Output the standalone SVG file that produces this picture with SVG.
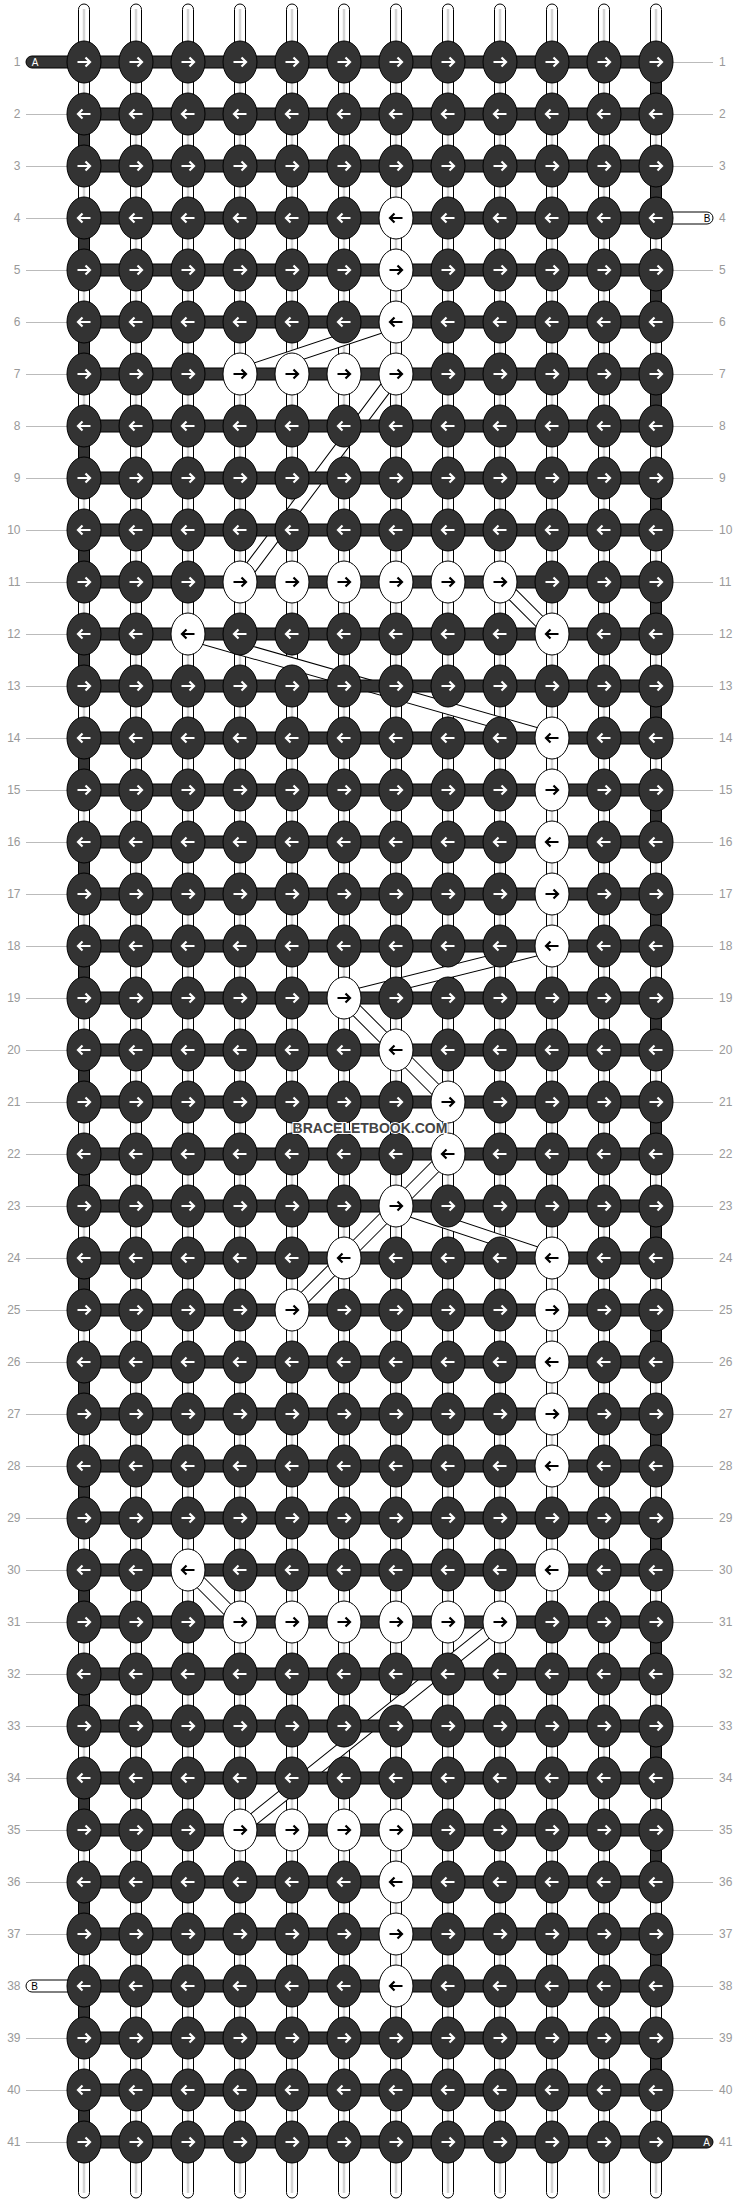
<svg xmlns="http://www.w3.org/2000/svg" xmlns:xlink="http://www.w3.org/1999/xlink" width="740" height="2204" viewBox="0 0 740 2204">
<style>
.vs{fill:#fff;stroke:#000;stroke-width:1}
.vg{stroke:#d4d4d4;stroke-width:2.5}
.dk{fill:#333;stroke:#000;stroke-width:1}
.wt{fill:#fff;stroke:#000;stroke-width:1}
.bo{stroke:#000;stroke-width:13;fill:none}
.bi{stroke:#fff;stroke-width:11;fill:none}
.lab{font-family:"Liberation Sans",Arial,sans-serif;font-size:12px;fill:#999}
.ll{stroke:#bbb;stroke-width:1}
.tab{font-family:"Liberation Sans",Arial,sans-serif;font-size:10px;text-anchor:middle}
</style>
<defs>
<g id="dR"><ellipse rx="17" ry="21" fill="#333" stroke="#000"/><path d="M-6.5,0H6M1.5,-4.5L6,0L1.5,4.5" fill="none" stroke="#fff" stroke-width="2.2"/></g>
<g id="dL"><ellipse rx="17" ry="21" fill="#333" stroke="#000"/><path d="M6.5,0H-6M-1.5,-4.5L-6,0L-1.5,4.5" fill="none" stroke="#fff" stroke-width="2.2"/></g>
<g id="wR"><ellipse rx="17" ry="21" fill="#fff" stroke="#000"/><path d="M-6.5,0H6M1.5,-4.5L6,0L1.5,4.5" fill="none" stroke="#000" stroke-width="2.2"/></g>
<g id="wL"><ellipse rx="17" ry="21" fill="#fff" stroke="#000"/><path d="M6.5,0H-6M-1.5,-4.5L-6,0L-1.5,4.5" fill="none" stroke="#000" stroke-width="2.2"/></g>
<rect id="bar" x="84" y="-6" width="572" height="12" class="dk"/>
</defs>
<g id="strands">
<rect class="vs" x="78.5" y="4" width="11" height="2194" rx="5.5"/><line class="vg" x1="84" y1="9" x2="84" y2="2193"/>
<rect class="vs" x="130.5" y="4" width="11" height="2194" rx="5.5"/><line class="vg" x1="136" y1="9" x2="136" y2="2193"/>
<rect class="vs" x="182.5" y="4" width="11" height="2194" rx="5.5"/><line class="vg" x1="188" y1="9" x2="188" y2="2193"/>
<rect class="vs" x="234.5" y="4" width="11" height="2194" rx="5.5"/><line class="vg" x1="240" y1="9" x2="240" y2="2193"/>
<rect class="vs" x="286.5" y="4" width="11" height="2194" rx="5.5"/><line class="vg" x1="292" y1="9" x2="292" y2="2193"/>
<rect class="vs" x="338.5" y="4" width="11" height="2194" rx="5.5"/><line class="vg" x1="344" y1="9" x2="344" y2="2193"/>
<rect class="vs" x="390.5" y="4" width="11" height="2194" rx="5.5"/><line class="vg" x1="396" y1="9" x2="396" y2="2193"/>
<rect class="vs" x="442.5" y="4" width="11" height="2194" rx="5.5"/><line class="vg" x1="448" y1="9" x2="448" y2="2193"/>
<rect class="vs" x="494.5" y="4" width="11" height="2194" rx="5.5"/><line class="vg" x1="500" y1="9" x2="500" y2="2193"/>
<rect class="vs" x="546.5" y="4" width="11" height="2194" rx="5.5"/><line class="vg" x1="552" y1="9" x2="552" y2="2193"/>
<rect class="vs" x="598.5" y="4" width="11" height="2194" rx="5.5"/><line class="vg" x1="604" y1="9" x2="604" y2="2193"/>
<rect class="vs" x="650.5" y="4" width="11" height="2194" rx="5.5"/><line class="vg" x1="656" y1="9" x2="656" y2="2193"/>
</g>
<g id="connectors">
<path class="dk" d="M78.5,129h11v22h-11zM78.5,233h11v22h-11zM78.5,337h11v22h-11zM78.5,441h11v22h-11zM78.5,545h11v22h-11zM78.5,649h11v22h-11zM78.5,753h11v22h-11zM78.5,857h11v22h-11zM78.5,961h11v22h-11zM78.5,1065h11v22h-11zM78.5,1169h11v22h-11zM78.5,1273h11v22h-11zM78.5,1377h11v22h-11zM78.5,1481h11v22h-11zM78.5,1585h11v22h-11zM78.5,1689h11v22h-11zM78.5,1793h11v22h-11zM78.5,1897h11v22h-11zM78.5,2001h11v22h-11zM78.5,2105h11v22h-11z"/>
<path class="dk" d="M650.5,77h11v22h-11zM650.5,181h11v22h-11zM650.5,285h11v22h-11zM650.5,389h11v22h-11zM650.5,493h11v22h-11zM650.5,597h11v22h-11zM650.5,701h11v22h-11zM650.5,805h11v22h-11zM650.5,909h11v22h-11zM650.5,1013h11v22h-11zM650.5,1117h11v22h-11zM650.5,1221h11v22h-11zM650.5,1325h11v22h-11zM650.5,1429h11v22h-11zM650.5,1533h11v22h-11zM650.5,1637h11v22h-11zM650.5,1741h11v22h-11zM650.5,1845h11v22h-11zM650.5,1949h11v22h-11zM650.5,2053h11v22h-11z"/>
<g id="bands">
<path class="bo" d="M396,322L240,374M396,374L240,582M500,582L552,634M188,634L552,738M552,946L344,998M344,998L396,1050M396,1050L448,1102M448,1154L396,1206M396,1206L552,1258M396,1206L344,1258M344,1258L292,1310M188,1570L240,1622M500,1622L240,1830"/>
<path class="bi" d="M396,322L240,374M396,374L240,582M500,582L552,634M188,634L552,738M552,946L344,998M344,998L396,1050M396,1050L448,1102M448,1154L396,1206M396,1206L552,1258M396,1206L344,1258M344,1258L292,1310M188,1570L240,1622M500,1622L240,1830"/>
</g>
<g id="bars">
<use href="#bar" y="62"/><use href="#bar" y="114"/><use href="#bar" y="166"/><use href="#bar" y="218"/><use href="#bar" y="270"/><use href="#bar" y="322"/><use href="#bar" y="374"/><use href="#bar" y="426"/><use href="#bar" y="478"/><use href="#bar" y="530"/><use href="#bar" y="582"/><use href="#bar" y="634"/><use href="#bar" y="686"/><use href="#bar" y="738"/><use href="#bar" y="790"/><use href="#bar" y="842"/><use href="#bar" y="894"/><use href="#bar" y="946"/><use href="#bar" y="998"/><use href="#bar" y="1050"/><use href="#bar" y="1102"/><use href="#bar" y="1154"/><use href="#bar" y="1206"/><use href="#bar" y="1258"/><use href="#bar" y="1310"/><use href="#bar" y="1362"/><use href="#bar" y="1414"/><use href="#bar" y="1466"/><use href="#bar" y="1518"/><use href="#bar" y="1570"/><use href="#bar" y="1622"/><use href="#bar" y="1674"/><use href="#bar" y="1726"/><use href="#bar" y="1778"/><use href="#bar" y="1830"/><use href="#bar" y="1882"/><use href="#bar" y="1934"/><use href="#bar" y="1986"/><use href="#bar" y="2038"/><use href="#bar" y="2090"/><use href="#bar" y="2142"/>
</g>
</g>
<g id="tabs">
<g id="tabA1"><rect class="dk" x="26" y="56" width="62" height="12" rx="6"/><text class="tab" x="35" y="65.5" fill="#fff">A</text></g>
<g id="tabB1"><rect class="wt" x="652" y="212" width="61" height="12" rx="6"/><text class="tab" x="707" y="221.5" fill="#000">B</text></g>
<g id="tabB2"><rect class="wt" x="26" y="1980" width="62" height="12" rx="6"/><text class="tab" x="34.5" y="1989.5" fill="#000">B</text></g>
<g id="tabA2"><rect class="dk" x="652" y="2136" width="61" height="12" rx="6"/><text class="tab" x="706.5" y="2145.5" fill="#fff">A</text></g>
</g>
<g id="labels">
<path class="ll" d="M26,114.5H67M26,166.5H67M26,218.5H67M26,270.5H67M26,322.5H67M26,374.5H67M26,426.5H67M26,478.5H67M26,530.5H67M26,582.5H67M26,634.5H67M26,686.5H67M26,738.5H67M26,790.5H67M26,842.5H67M26,894.5H67M26,946.5H67M26,998.5H67M26,1050.5H67M26,1102.5H67M26,1154.5H67M26,1206.5H67M26,1258.5H67M26,1310.5H67M26,1362.5H67M26,1414.5H67M26,1466.5H67M26,1518.5H67M26,1570.5H67M26,1622.5H67M26,1674.5H67M26,1726.5H67M26,1778.5H67M26,1830.5H67M26,1882.5H67M26,1934.5H67M26,2038.5H67M26,2090.5H67M26,2142.5H67"/>
<path class="ll" d="M673,62.5H713M673,114.5H713M673,166.5H713M673,270.5H713M673,322.5H713M673,374.5H713M673,426.5H713M673,478.5H713M673,530.5H713M673,582.5H713M673,634.5H713M673,686.5H713M673,738.5H713M673,790.5H713M673,842.5H713M673,894.5H713M673,946.5H713M673,998.5H713M673,1050.5H713M673,1102.5H713M673,1154.5H713M673,1206.5H713M673,1258.5H713M673,1310.5H713M673,1362.5H713M673,1414.5H713M673,1466.5H713M673,1518.5H713M673,1570.5H713M673,1622.5H713M673,1674.5H713M673,1726.5H713M673,1778.5H713M673,1830.5H713M673,1882.5H713M673,1934.5H713M673,1986.5H713M673,2038.5H713M673,2090.5H713"/>
<g class="lab" text-anchor="end">
<text x="20.5" y="66">1</text><text x="20.5" y="118">2</text><text x="20.5" y="170">3</text><text x="20.5" y="222">4</text><text x="20.5" y="274">5</text><text x="20.5" y="326">6</text><text x="20.5" y="378">7</text><text x="20.5" y="430">8</text><text x="20.5" y="482">9</text><text x="20.5" y="534">10</text><text x="20.5" y="586">11</text><text x="20.5" y="638">12</text><text x="20.5" y="690">13</text><text x="20.5" y="742">14</text><text x="20.5" y="794">15</text><text x="20.5" y="846">16</text><text x="20.5" y="898">17</text><text x="20.5" y="950">18</text><text x="20.5" y="1002">19</text><text x="20.5" y="1054">20</text><text x="20.5" y="1106">21</text><text x="20.5" y="1158">22</text><text x="20.5" y="1210">23</text><text x="20.5" y="1262">24</text><text x="20.5" y="1314">25</text><text x="20.5" y="1366">26</text><text x="20.5" y="1418">27</text><text x="20.5" y="1470">28</text><text x="20.5" y="1522">29</text><text x="20.5" y="1574">30</text><text x="20.5" y="1626">31</text><text x="20.5" y="1678">32</text><text x="20.5" y="1730">33</text><text x="20.5" y="1782">34</text><text x="20.5" y="1834">35</text><text x="20.5" y="1886">36</text><text x="20.5" y="1938">37</text><text x="20.5" y="1990">38</text><text x="20.5" y="2042">39</text><text x="20.5" y="2094">40</text><text x="20.5" y="2146">41</text>
</g>
<g class="lab" text-anchor="start">
<text x="719" y="66">1</text><text x="719" y="118">2</text><text x="719" y="170">3</text><text x="719" y="222">4</text><text x="719" y="274">5</text><text x="719" y="326">6</text><text x="719" y="378">7</text><text x="719" y="430">8</text><text x="719" y="482">9</text><text x="719" y="534">10</text><text x="719" y="586">11</text><text x="719" y="638">12</text><text x="719" y="690">13</text><text x="719" y="742">14</text><text x="719" y="794">15</text><text x="719" y="846">16</text><text x="719" y="898">17</text><text x="719" y="950">18</text><text x="719" y="1002">19</text><text x="719" y="1054">20</text><text x="719" y="1106">21</text><text x="719" y="1158">22</text><text x="719" y="1210">23</text><text x="719" y="1262">24</text><text x="719" y="1314">25</text><text x="719" y="1366">26</text><text x="719" y="1418">27</text><text x="719" y="1470">28</text><text x="719" y="1522">29</text><text x="719" y="1574">30</text><text x="719" y="1626">31</text><text x="719" y="1678">32</text><text x="719" y="1730">33</text><text x="719" y="1782">34</text><text x="719" y="1834">35</text><text x="719" y="1886">36</text><text x="719" y="1938">37</text><text x="719" y="1990">38</text><text x="719" y="2042">39</text><text x="719" y="2094">40</text><text x="719" y="2146">41</text>
</g>
</g>
<g id="knots">
<g id="k1-1"><use href="#dR" x="84" y="62"/></g><g id="k1-2"><use href="#dR" x="136" y="62"/></g><g id="k1-3"><use href="#dR" x="188" y="62"/></g><g id="k1-4"><use href="#dR" x="240" y="62"/></g><g id="k1-5"><use href="#dR" x="292" y="62"/></g><g id="k1-6"><use href="#dR" x="344" y="62"/></g><g id="k1-7"><use href="#dR" x="396" y="62"/></g><g id="k1-8"><use href="#dR" x="448" y="62"/></g><g id="k1-9"><use href="#dR" x="500" y="62"/></g><g id="k1-10"><use href="#dR" x="552" y="62"/></g><g id="k1-11"><use href="#dR" x="604" y="62"/></g><g id="k1-12"><use href="#dR" x="656" y="62"/></g>
<g id="k2-1"><use href="#dL" x="84" y="114"/></g><g id="k2-2"><use href="#dL" x="136" y="114"/></g><g id="k2-3"><use href="#dL" x="188" y="114"/></g><g id="k2-4"><use href="#dL" x="240" y="114"/></g><g id="k2-5"><use href="#dL" x="292" y="114"/></g><g id="k2-6"><use href="#dL" x="344" y="114"/></g><g id="k2-7"><use href="#dL" x="396" y="114"/></g><g id="k2-8"><use href="#dL" x="448" y="114"/></g><g id="k2-9"><use href="#dL" x="500" y="114"/></g><g id="k2-10"><use href="#dL" x="552" y="114"/></g><g id="k2-11"><use href="#dL" x="604" y="114"/></g><g id="k2-12"><use href="#dL" x="656" y="114"/></g>
<g id="k3-1"><use href="#dR" x="84" y="166"/></g><g id="k3-2"><use href="#dR" x="136" y="166"/></g><g id="k3-3"><use href="#dR" x="188" y="166"/></g><g id="k3-4"><use href="#dR" x="240" y="166"/></g><g id="k3-5"><use href="#dR" x="292" y="166"/></g><g id="k3-6"><use href="#dR" x="344" y="166"/></g><g id="k3-7"><use href="#dR" x="396" y="166"/></g><g id="k3-8"><use href="#dR" x="448" y="166"/></g><g id="k3-9"><use href="#dR" x="500" y="166"/></g><g id="k3-10"><use href="#dR" x="552" y="166"/></g><g id="k3-11"><use href="#dR" x="604" y="166"/></g><g id="k3-12"><use href="#dR" x="656" y="166"/></g>
<g id="k4-1"><use href="#dL" x="84" y="218"/></g><g id="k4-2"><use href="#dL" x="136" y="218"/></g><g id="k4-3"><use href="#dL" x="188" y="218"/></g><g id="k4-4"><use href="#dL" x="240" y="218"/></g><g id="k4-5"><use href="#dL" x="292" y="218"/></g><g id="k4-6"><use href="#dL" x="344" y="218"/></g><g id="k4-7"><use href="#wL" x="396" y="218"/></g><g id="k4-8"><use href="#dL" x="448" y="218"/></g><g id="k4-9"><use href="#dL" x="500" y="218"/></g><g id="k4-10"><use href="#dL" x="552" y="218"/></g><g id="k4-11"><use href="#dL" x="604" y="218"/></g><g id="k4-12"><use href="#dL" x="656" y="218"/></g>
<g id="k5-1"><use href="#dR" x="84" y="270"/></g><g id="k5-2"><use href="#dR" x="136" y="270"/></g><g id="k5-3"><use href="#dR" x="188" y="270"/></g><g id="k5-4"><use href="#dR" x="240" y="270"/></g><g id="k5-5"><use href="#dR" x="292" y="270"/></g><g id="k5-6"><use href="#dR" x="344" y="270"/></g><g id="k5-7"><use href="#wR" x="396" y="270"/></g><g id="k5-8"><use href="#dR" x="448" y="270"/></g><g id="k5-9"><use href="#dR" x="500" y="270"/></g><g id="k5-10"><use href="#dR" x="552" y="270"/></g><g id="k5-11"><use href="#dR" x="604" y="270"/></g><g id="k5-12"><use href="#dR" x="656" y="270"/></g>
<g id="k6-1"><use href="#dL" x="84" y="322"/></g><g id="k6-2"><use href="#dL" x="136" y="322"/></g><g id="k6-3"><use href="#dL" x="188" y="322"/></g><g id="k6-4"><use href="#dL" x="240" y="322"/></g><g id="k6-5"><use href="#dL" x="292" y="322"/></g><g id="k6-6"><use href="#dL" x="344" y="322"/></g><g id="k6-7"><use href="#wL" x="396" y="322"/></g><g id="k6-8"><use href="#dL" x="448" y="322"/></g><g id="k6-9"><use href="#dL" x="500" y="322"/></g><g id="k6-10"><use href="#dL" x="552" y="322"/></g><g id="k6-11"><use href="#dL" x="604" y="322"/></g><g id="k6-12"><use href="#dL" x="656" y="322"/></g>
<g id="k7-1"><use href="#dR" x="84" y="374"/></g><g id="k7-2"><use href="#dR" x="136" y="374"/></g><g id="k7-3"><use href="#dR" x="188" y="374"/></g><g id="k7-4"><use href="#wR" x="240" y="374"/></g><g id="k7-5"><use href="#wR" x="292" y="374"/></g><g id="k7-6"><use href="#wR" x="344" y="374"/></g><g id="k7-7"><use href="#wR" x="396" y="374"/></g><g id="k7-8"><use href="#dR" x="448" y="374"/></g><g id="k7-9"><use href="#dR" x="500" y="374"/></g><g id="k7-10"><use href="#dR" x="552" y="374"/></g><g id="k7-11"><use href="#dR" x="604" y="374"/></g><g id="k7-12"><use href="#dR" x="656" y="374"/></g>
<g id="k8-1"><use href="#dL" x="84" y="426"/></g><g id="k8-2"><use href="#dL" x="136" y="426"/></g><g id="k8-3"><use href="#dL" x="188" y="426"/></g><g id="k8-4"><use href="#dL" x="240" y="426"/></g><g id="k8-5"><use href="#dL" x="292" y="426"/></g><g id="k8-6"><use href="#dL" x="344" y="426"/></g><g id="k8-7"><use href="#dL" x="396" y="426"/></g><g id="k8-8"><use href="#dL" x="448" y="426"/></g><g id="k8-9"><use href="#dL" x="500" y="426"/></g><g id="k8-10"><use href="#dL" x="552" y="426"/></g><g id="k8-11"><use href="#dL" x="604" y="426"/></g><g id="k8-12"><use href="#dL" x="656" y="426"/></g>
<g id="k9-1"><use href="#dR" x="84" y="478"/></g><g id="k9-2"><use href="#dR" x="136" y="478"/></g><g id="k9-3"><use href="#dR" x="188" y="478"/></g><g id="k9-4"><use href="#dR" x="240" y="478"/></g><g id="k9-5"><use href="#dR" x="292" y="478"/></g><g id="k9-6"><use href="#dR" x="344" y="478"/></g><g id="k9-7"><use href="#dR" x="396" y="478"/></g><g id="k9-8"><use href="#dR" x="448" y="478"/></g><g id="k9-9"><use href="#dR" x="500" y="478"/></g><g id="k9-10"><use href="#dR" x="552" y="478"/></g><g id="k9-11"><use href="#dR" x="604" y="478"/></g><g id="k9-12"><use href="#dR" x="656" y="478"/></g>
<g id="k10-1"><use href="#dL" x="84" y="530"/></g><g id="k10-2"><use href="#dL" x="136" y="530"/></g><g id="k10-3"><use href="#dL" x="188" y="530"/></g><g id="k10-4"><use href="#dL" x="240" y="530"/></g><g id="k10-5"><use href="#dL" x="292" y="530"/></g><g id="k10-6"><use href="#dL" x="344" y="530"/></g><g id="k10-7"><use href="#dL" x="396" y="530"/></g><g id="k10-8"><use href="#dL" x="448" y="530"/></g><g id="k10-9"><use href="#dL" x="500" y="530"/></g><g id="k10-10"><use href="#dL" x="552" y="530"/></g><g id="k10-11"><use href="#dL" x="604" y="530"/></g><g id="k10-12"><use href="#dL" x="656" y="530"/></g>
<g id="k11-1"><use href="#dR" x="84" y="582"/></g><g id="k11-2"><use href="#dR" x="136" y="582"/></g><g id="k11-3"><use href="#dR" x="188" y="582"/></g><g id="k11-4"><use href="#wR" x="240" y="582"/></g><g id="k11-5"><use href="#wR" x="292" y="582"/></g><g id="k11-6"><use href="#wR" x="344" y="582"/></g><g id="k11-7"><use href="#wR" x="396" y="582"/></g><g id="k11-8"><use href="#wR" x="448" y="582"/></g><g id="k11-9"><use href="#wR" x="500" y="582"/></g><g id="k11-10"><use href="#dR" x="552" y="582"/></g><g id="k11-11"><use href="#dR" x="604" y="582"/></g><g id="k11-12"><use href="#dR" x="656" y="582"/></g>
<g id="k12-1"><use href="#dL" x="84" y="634"/></g><g id="k12-2"><use href="#dL" x="136" y="634"/></g><g id="k12-3"><use href="#wL" x="188" y="634"/></g><g id="k12-4"><use href="#dL" x="240" y="634"/></g><g id="k12-5"><use href="#dL" x="292" y="634"/></g><g id="k12-6"><use href="#dL" x="344" y="634"/></g><g id="k12-7"><use href="#dL" x="396" y="634"/></g><g id="k12-8"><use href="#dL" x="448" y="634"/></g><g id="k12-9"><use href="#dL" x="500" y="634"/></g><g id="k12-10"><use href="#wL" x="552" y="634"/></g><g id="k12-11"><use href="#dL" x="604" y="634"/></g><g id="k12-12"><use href="#dL" x="656" y="634"/></g>
<g id="k13-1"><use href="#dR" x="84" y="686"/></g><g id="k13-2"><use href="#dR" x="136" y="686"/></g><g id="k13-3"><use href="#dR" x="188" y="686"/></g><g id="k13-4"><use href="#dR" x="240" y="686"/></g><g id="k13-5"><use href="#dR" x="292" y="686"/></g><g id="k13-6"><use href="#dR" x="344" y="686"/></g><g id="k13-7"><use href="#dR" x="396" y="686"/></g><g id="k13-8"><use href="#dR" x="448" y="686"/></g><g id="k13-9"><use href="#dR" x="500" y="686"/></g><g id="k13-10"><use href="#dR" x="552" y="686"/></g><g id="k13-11"><use href="#dR" x="604" y="686"/></g><g id="k13-12"><use href="#dR" x="656" y="686"/></g>
<g id="k14-1"><use href="#dL" x="84" y="738"/></g><g id="k14-2"><use href="#dL" x="136" y="738"/></g><g id="k14-3"><use href="#dL" x="188" y="738"/></g><g id="k14-4"><use href="#dL" x="240" y="738"/></g><g id="k14-5"><use href="#dL" x="292" y="738"/></g><g id="k14-6"><use href="#dL" x="344" y="738"/></g><g id="k14-7"><use href="#dL" x="396" y="738"/></g><g id="k14-8"><use href="#dL" x="448" y="738"/></g><g id="k14-9"><use href="#dL" x="500" y="738"/></g><g id="k14-10"><use href="#wL" x="552" y="738"/></g><g id="k14-11"><use href="#dL" x="604" y="738"/></g><g id="k14-12"><use href="#dL" x="656" y="738"/></g>
<g id="k15-1"><use href="#dR" x="84" y="790"/></g><g id="k15-2"><use href="#dR" x="136" y="790"/></g><g id="k15-3"><use href="#dR" x="188" y="790"/></g><g id="k15-4"><use href="#dR" x="240" y="790"/></g><g id="k15-5"><use href="#dR" x="292" y="790"/></g><g id="k15-6"><use href="#dR" x="344" y="790"/></g><g id="k15-7"><use href="#dR" x="396" y="790"/></g><g id="k15-8"><use href="#dR" x="448" y="790"/></g><g id="k15-9"><use href="#dR" x="500" y="790"/></g><g id="k15-10"><use href="#wR" x="552" y="790"/></g><g id="k15-11"><use href="#dR" x="604" y="790"/></g><g id="k15-12"><use href="#dR" x="656" y="790"/></g>
<g id="k16-1"><use href="#dL" x="84" y="842"/></g><g id="k16-2"><use href="#dL" x="136" y="842"/></g><g id="k16-3"><use href="#dL" x="188" y="842"/></g><g id="k16-4"><use href="#dL" x="240" y="842"/></g><g id="k16-5"><use href="#dL" x="292" y="842"/></g><g id="k16-6"><use href="#dL" x="344" y="842"/></g><g id="k16-7"><use href="#dL" x="396" y="842"/></g><g id="k16-8"><use href="#dL" x="448" y="842"/></g><g id="k16-9"><use href="#dL" x="500" y="842"/></g><g id="k16-10"><use href="#wL" x="552" y="842"/></g><g id="k16-11"><use href="#dL" x="604" y="842"/></g><g id="k16-12"><use href="#dL" x="656" y="842"/></g>
<g id="k17-1"><use href="#dR" x="84" y="894"/></g><g id="k17-2"><use href="#dR" x="136" y="894"/></g><g id="k17-3"><use href="#dR" x="188" y="894"/></g><g id="k17-4"><use href="#dR" x="240" y="894"/></g><g id="k17-5"><use href="#dR" x="292" y="894"/></g><g id="k17-6"><use href="#dR" x="344" y="894"/></g><g id="k17-7"><use href="#dR" x="396" y="894"/></g><g id="k17-8"><use href="#dR" x="448" y="894"/></g><g id="k17-9"><use href="#dR" x="500" y="894"/></g><g id="k17-10"><use href="#wR" x="552" y="894"/></g><g id="k17-11"><use href="#dR" x="604" y="894"/></g><g id="k17-12"><use href="#dR" x="656" y="894"/></g>
<g id="k18-1"><use href="#dL" x="84" y="946"/></g><g id="k18-2"><use href="#dL" x="136" y="946"/></g><g id="k18-3"><use href="#dL" x="188" y="946"/></g><g id="k18-4"><use href="#dL" x="240" y="946"/></g><g id="k18-5"><use href="#dL" x="292" y="946"/></g><g id="k18-6"><use href="#dL" x="344" y="946"/></g><g id="k18-7"><use href="#dL" x="396" y="946"/></g><g id="k18-8"><use href="#dL" x="448" y="946"/></g><g id="k18-9"><use href="#dL" x="500" y="946"/></g><g id="k18-10"><use href="#wL" x="552" y="946"/></g><g id="k18-11"><use href="#dL" x="604" y="946"/></g><g id="k18-12"><use href="#dL" x="656" y="946"/></g>
<g id="k19-1"><use href="#dR" x="84" y="998"/></g><g id="k19-2"><use href="#dR" x="136" y="998"/></g><g id="k19-3"><use href="#dR" x="188" y="998"/></g><g id="k19-4"><use href="#dR" x="240" y="998"/></g><g id="k19-5"><use href="#dR" x="292" y="998"/></g><g id="k19-6"><use href="#wR" x="344" y="998"/></g><g id="k19-7"><use href="#dR" x="396" y="998"/></g><g id="k19-8"><use href="#dR" x="448" y="998"/></g><g id="k19-9"><use href="#dR" x="500" y="998"/></g><g id="k19-10"><use href="#dR" x="552" y="998"/></g><g id="k19-11"><use href="#dR" x="604" y="998"/></g><g id="k19-12"><use href="#dR" x="656" y="998"/></g>
<g id="k20-1"><use href="#dL" x="84" y="1050"/></g><g id="k20-2"><use href="#dL" x="136" y="1050"/></g><g id="k20-3"><use href="#dL" x="188" y="1050"/></g><g id="k20-4"><use href="#dL" x="240" y="1050"/></g><g id="k20-5"><use href="#dL" x="292" y="1050"/></g><g id="k20-6"><use href="#dL" x="344" y="1050"/></g><g id="k20-7"><use href="#wL" x="396" y="1050"/></g><g id="k20-8"><use href="#dL" x="448" y="1050"/></g><g id="k20-9"><use href="#dL" x="500" y="1050"/></g><g id="k20-10"><use href="#dL" x="552" y="1050"/></g><g id="k20-11"><use href="#dL" x="604" y="1050"/></g><g id="k20-12"><use href="#dL" x="656" y="1050"/></g>
<g id="k21-1"><use href="#dR" x="84" y="1102"/></g><g id="k21-2"><use href="#dR" x="136" y="1102"/></g><g id="k21-3"><use href="#dR" x="188" y="1102"/></g><g id="k21-4"><use href="#dR" x="240" y="1102"/></g><g id="k21-5"><use href="#dR" x="292" y="1102"/></g><g id="k21-6"><use href="#dR" x="344" y="1102"/></g><g id="k21-7"><use href="#dR" x="396" y="1102"/></g><g id="k21-8"><use href="#wR" x="448" y="1102"/></g><g id="k21-9"><use href="#dR" x="500" y="1102"/></g><g id="k21-10"><use href="#dR" x="552" y="1102"/></g><g id="k21-11"><use href="#dR" x="604" y="1102"/></g><g id="k21-12"><use href="#dR" x="656" y="1102"/></g>
<g id="k22-1"><use href="#dL" x="84" y="1154"/></g><g id="k22-2"><use href="#dL" x="136" y="1154"/></g><g id="k22-3"><use href="#dL" x="188" y="1154"/></g><g id="k22-4"><use href="#dL" x="240" y="1154"/></g><g id="k22-5"><use href="#dL" x="292" y="1154"/></g><g id="k22-6"><use href="#dL" x="344" y="1154"/></g><g id="k22-7"><use href="#dL" x="396" y="1154"/></g><g id="k22-8"><use href="#wL" x="448" y="1154"/></g><g id="k22-9"><use href="#dL" x="500" y="1154"/></g><g id="k22-10"><use href="#dL" x="552" y="1154"/></g><g id="k22-11"><use href="#dL" x="604" y="1154"/></g><g id="k22-12"><use href="#dL" x="656" y="1154"/></g>
<g id="k23-1"><use href="#dR" x="84" y="1206"/></g><g id="k23-2"><use href="#dR" x="136" y="1206"/></g><g id="k23-3"><use href="#dR" x="188" y="1206"/></g><g id="k23-4"><use href="#dR" x="240" y="1206"/></g><g id="k23-5"><use href="#dR" x="292" y="1206"/></g><g id="k23-6"><use href="#dR" x="344" y="1206"/></g><g id="k23-7"><use href="#wR" x="396" y="1206"/></g><g id="k23-8"><use href="#dR" x="448" y="1206"/></g><g id="k23-9"><use href="#dR" x="500" y="1206"/></g><g id="k23-10"><use href="#dR" x="552" y="1206"/></g><g id="k23-11"><use href="#dR" x="604" y="1206"/></g><g id="k23-12"><use href="#dR" x="656" y="1206"/></g>
<g id="k24-1"><use href="#dL" x="84" y="1258"/></g><g id="k24-2"><use href="#dL" x="136" y="1258"/></g><g id="k24-3"><use href="#dL" x="188" y="1258"/></g><g id="k24-4"><use href="#dL" x="240" y="1258"/></g><g id="k24-5"><use href="#dL" x="292" y="1258"/></g><g id="k24-6"><use href="#wL" x="344" y="1258"/></g><g id="k24-7"><use href="#dL" x="396" y="1258"/></g><g id="k24-8"><use href="#dL" x="448" y="1258"/></g><g id="k24-9"><use href="#dL" x="500" y="1258"/></g><g id="k24-10"><use href="#wL" x="552" y="1258"/></g><g id="k24-11"><use href="#dL" x="604" y="1258"/></g><g id="k24-12"><use href="#dL" x="656" y="1258"/></g>
<g id="k25-1"><use href="#dR" x="84" y="1310"/></g><g id="k25-2"><use href="#dR" x="136" y="1310"/></g><g id="k25-3"><use href="#dR" x="188" y="1310"/></g><g id="k25-4"><use href="#dR" x="240" y="1310"/></g><g id="k25-5"><use href="#wR" x="292" y="1310"/></g><g id="k25-6"><use href="#dR" x="344" y="1310"/></g><g id="k25-7"><use href="#dR" x="396" y="1310"/></g><g id="k25-8"><use href="#dR" x="448" y="1310"/></g><g id="k25-9"><use href="#dR" x="500" y="1310"/></g><g id="k25-10"><use href="#wR" x="552" y="1310"/></g><g id="k25-11"><use href="#dR" x="604" y="1310"/></g><g id="k25-12"><use href="#dR" x="656" y="1310"/></g>
<g id="k26-1"><use href="#dL" x="84" y="1362"/></g><g id="k26-2"><use href="#dL" x="136" y="1362"/></g><g id="k26-3"><use href="#dL" x="188" y="1362"/></g><g id="k26-4"><use href="#dL" x="240" y="1362"/></g><g id="k26-5"><use href="#dL" x="292" y="1362"/></g><g id="k26-6"><use href="#dL" x="344" y="1362"/></g><g id="k26-7"><use href="#dL" x="396" y="1362"/></g><g id="k26-8"><use href="#dL" x="448" y="1362"/></g><g id="k26-9"><use href="#dL" x="500" y="1362"/></g><g id="k26-10"><use href="#wL" x="552" y="1362"/></g><g id="k26-11"><use href="#dL" x="604" y="1362"/></g><g id="k26-12"><use href="#dL" x="656" y="1362"/></g>
<g id="k27-1"><use href="#dR" x="84" y="1414"/></g><g id="k27-2"><use href="#dR" x="136" y="1414"/></g><g id="k27-3"><use href="#dR" x="188" y="1414"/></g><g id="k27-4"><use href="#dR" x="240" y="1414"/></g><g id="k27-5"><use href="#dR" x="292" y="1414"/></g><g id="k27-6"><use href="#dR" x="344" y="1414"/></g><g id="k27-7"><use href="#dR" x="396" y="1414"/></g><g id="k27-8"><use href="#dR" x="448" y="1414"/></g><g id="k27-9"><use href="#dR" x="500" y="1414"/></g><g id="k27-10"><use href="#wR" x="552" y="1414"/></g><g id="k27-11"><use href="#dR" x="604" y="1414"/></g><g id="k27-12"><use href="#dR" x="656" y="1414"/></g>
<g id="k28-1"><use href="#dL" x="84" y="1466"/></g><g id="k28-2"><use href="#dL" x="136" y="1466"/></g><g id="k28-3"><use href="#dL" x="188" y="1466"/></g><g id="k28-4"><use href="#dL" x="240" y="1466"/></g><g id="k28-5"><use href="#dL" x="292" y="1466"/></g><g id="k28-6"><use href="#dL" x="344" y="1466"/></g><g id="k28-7"><use href="#dL" x="396" y="1466"/></g><g id="k28-8"><use href="#dL" x="448" y="1466"/></g><g id="k28-9"><use href="#dL" x="500" y="1466"/></g><g id="k28-10"><use href="#wL" x="552" y="1466"/></g><g id="k28-11"><use href="#dL" x="604" y="1466"/></g><g id="k28-12"><use href="#dL" x="656" y="1466"/></g>
<g id="k29-1"><use href="#dR" x="84" y="1518"/></g><g id="k29-2"><use href="#dR" x="136" y="1518"/></g><g id="k29-3"><use href="#dR" x="188" y="1518"/></g><g id="k29-4"><use href="#dR" x="240" y="1518"/></g><g id="k29-5"><use href="#dR" x="292" y="1518"/></g><g id="k29-6"><use href="#dR" x="344" y="1518"/></g><g id="k29-7"><use href="#dR" x="396" y="1518"/></g><g id="k29-8"><use href="#dR" x="448" y="1518"/></g><g id="k29-9"><use href="#dR" x="500" y="1518"/></g><g id="k29-10"><use href="#dR" x="552" y="1518"/></g><g id="k29-11"><use href="#dR" x="604" y="1518"/></g><g id="k29-12"><use href="#dR" x="656" y="1518"/></g>
<g id="k30-1"><use href="#dL" x="84" y="1570"/></g><g id="k30-2"><use href="#dL" x="136" y="1570"/></g><g id="k30-3"><use href="#wL" x="188" y="1570"/></g><g id="k30-4"><use href="#dL" x="240" y="1570"/></g><g id="k30-5"><use href="#dL" x="292" y="1570"/></g><g id="k30-6"><use href="#dL" x="344" y="1570"/></g><g id="k30-7"><use href="#dL" x="396" y="1570"/></g><g id="k30-8"><use href="#dL" x="448" y="1570"/></g><g id="k30-9"><use href="#dL" x="500" y="1570"/></g><g id="k30-10"><use href="#wL" x="552" y="1570"/></g><g id="k30-11"><use href="#dL" x="604" y="1570"/></g><g id="k30-12"><use href="#dL" x="656" y="1570"/></g>
<g id="k31-1"><use href="#dR" x="84" y="1622"/></g><g id="k31-2"><use href="#dR" x="136" y="1622"/></g><g id="k31-3"><use href="#dR" x="188" y="1622"/></g><g id="k31-4"><use href="#wR" x="240" y="1622"/></g><g id="k31-5"><use href="#wR" x="292" y="1622"/></g><g id="k31-6"><use href="#wR" x="344" y="1622"/></g><g id="k31-7"><use href="#wR" x="396" y="1622"/></g><g id="k31-8"><use href="#wR" x="448" y="1622"/></g><g id="k31-9"><use href="#wR" x="500" y="1622"/></g><g id="k31-10"><use href="#dR" x="552" y="1622"/></g><g id="k31-11"><use href="#dR" x="604" y="1622"/></g><g id="k31-12"><use href="#dR" x="656" y="1622"/></g>
<g id="k32-1"><use href="#dL" x="84" y="1674"/></g><g id="k32-2"><use href="#dL" x="136" y="1674"/></g><g id="k32-3"><use href="#dL" x="188" y="1674"/></g><g id="k32-4"><use href="#dL" x="240" y="1674"/></g><g id="k32-5"><use href="#dL" x="292" y="1674"/></g><g id="k32-6"><use href="#dL" x="344" y="1674"/></g><g id="k32-7"><use href="#dL" x="396" y="1674"/></g><g id="k32-8"><use href="#dL" x="448" y="1674"/></g><g id="k32-9"><use href="#dL" x="500" y="1674"/></g><g id="k32-10"><use href="#dL" x="552" y="1674"/></g><g id="k32-11"><use href="#dL" x="604" y="1674"/></g><g id="k32-12"><use href="#dL" x="656" y="1674"/></g>
<g id="k33-1"><use href="#dR" x="84" y="1726"/></g><g id="k33-2"><use href="#dR" x="136" y="1726"/></g><g id="k33-3"><use href="#dR" x="188" y="1726"/></g><g id="k33-4"><use href="#dR" x="240" y="1726"/></g><g id="k33-5"><use href="#dR" x="292" y="1726"/></g><g id="k33-6"><use href="#dR" x="344" y="1726"/></g><g id="k33-7"><use href="#dR" x="396" y="1726"/></g><g id="k33-8"><use href="#dR" x="448" y="1726"/></g><g id="k33-9"><use href="#dR" x="500" y="1726"/></g><g id="k33-10"><use href="#dR" x="552" y="1726"/></g><g id="k33-11"><use href="#dR" x="604" y="1726"/></g><g id="k33-12"><use href="#dR" x="656" y="1726"/></g>
<g id="k34-1"><use href="#dL" x="84" y="1778"/></g><g id="k34-2"><use href="#dL" x="136" y="1778"/></g><g id="k34-3"><use href="#dL" x="188" y="1778"/></g><g id="k34-4"><use href="#dL" x="240" y="1778"/></g><g id="k34-5"><use href="#dL" x="292" y="1778"/></g><g id="k34-6"><use href="#dL" x="344" y="1778"/></g><g id="k34-7"><use href="#dL" x="396" y="1778"/></g><g id="k34-8"><use href="#dL" x="448" y="1778"/></g><g id="k34-9"><use href="#dL" x="500" y="1778"/></g><g id="k34-10"><use href="#dL" x="552" y="1778"/></g><g id="k34-11"><use href="#dL" x="604" y="1778"/></g><g id="k34-12"><use href="#dL" x="656" y="1778"/></g>
<g id="k35-1"><use href="#dR" x="84" y="1830"/></g><g id="k35-2"><use href="#dR" x="136" y="1830"/></g><g id="k35-3"><use href="#dR" x="188" y="1830"/></g><g id="k35-4"><use href="#wR" x="240" y="1830"/></g><g id="k35-5"><use href="#wR" x="292" y="1830"/></g><g id="k35-6"><use href="#wR" x="344" y="1830"/></g><g id="k35-7"><use href="#wR" x="396" y="1830"/></g><g id="k35-8"><use href="#dR" x="448" y="1830"/></g><g id="k35-9"><use href="#dR" x="500" y="1830"/></g><g id="k35-10"><use href="#dR" x="552" y="1830"/></g><g id="k35-11"><use href="#dR" x="604" y="1830"/></g><g id="k35-12"><use href="#dR" x="656" y="1830"/></g>
<g id="k36-1"><use href="#dL" x="84" y="1882"/></g><g id="k36-2"><use href="#dL" x="136" y="1882"/></g><g id="k36-3"><use href="#dL" x="188" y="1882"/></g><g id="k36-4"><use href="#dL" x="240" y="1882"/></g><g id="k36-5"><use href="#dL" x="292" y="1882"/></g><g id="k36-6"><use href="#dL" x="344" y="1882"/></g><g id="k36-7"><use href="#wL" x="396" y="1882"/></g><g id="k36-8"><use href="#dL" x="448" y="1882"/></g><g id="k36-9"><use href="#dL" x="500" y="1882"/></g><g id="k36-10"><use href="#dL" x="552" y="1882"/></g><g id="k36-11"><use href="#dL" x="604" y="1882"/></g><g id="k36-12"><use href="#dL" x="656" y="1882"/></g>
<g id="k37-1"><use href="#dR" x="84" y="1934"/></g><g id="k37-2"><use href="#dR" x="136" y="1934"/></g><g id="k37-3"><use href="#dR" x="188" y="1934"/></g><g id="k37-4"><use href="#dR" x="240" y="1934"/></g><g id="k37-5"><use href="#dR" x="292" y="1934"/></g><g id="k37-6"><use href="#dR" x="344" y="1934"/></g><g id="k37-7"><use href="#wR" x="396" y="1934"/></g><g id="k37-8"><use href="#dR" x="448" y="1934"/></g><g id="k37-9"><use href="#dR" x="500" y="1934"/></g><g id="k37-10"><use href="#dR" x="552" y="1934"/></g><g id="k37-11"><use href="#dR" x="604" y="1934"/></g><g id="k37-12"><use href="#dR" x="656" y="1934"/></g>
<g id="k38-1"><use href="#dL" x="84" y="1986"/></g><g id="k38-2"><use href="#dL" x="136" y="1986"/></g><g id="k38-3"><use href="#dL" x="188" y="1986"/></g><g id="k38-4"><use href="#dL" x="240" y="1986"/></g><g id="k38-5"><use href="#dL" x="292" y="1986"/></g><g id="k38-6"><use href="#dL" x="344" y="1986"/></g><g id="k38-7"><use href="#wL" x="396" y="1986"/></g><g id="k38-8"><use href="#dL" x="448" y="1986"/></g><g id="k38-9"><use href="#dL" x="500" y="1986"/></g><g id="k38-10"><use href="#dL" x="552" y="1986"/></g><g id="k38-11"><use href="#dL" x="604" y="1986"/></g><g id="k38-12"><use href="#dL" x="656" y="1986"/></g>
<g id="k39-1"><use href="#dR" x="84" y="2038"/></g><g id="k39-2"><use href="#dR" x="136" y="2038"/></g><g id="k39-3"><use href="#dR" x="188" y="2038"/></g><g id="k39-4"><use href="#dR" x="240" y="2038"/></g><g id="k39-5"><use href="#dR" x="292" y="2038"/></g><g id="k39-6"><use href="#dR" x="344" y="2038"/></g><g id="k39-7"><use href="#dR" x="396" y="2038"/></g><g id="k39-8"><use href="#dR" x="448" y="2038"/></g><g id="k39-9"><use href="#dR" x="500" y="2038"/></g><g id="k39-10"><use href="#dR" x="552" y="2038"/></g><g id="k39-11"><use href="#dR" x="604" y="2038"/></g><g id="k39-12"><use href="#dR" x="656" y="2038"/></g>
<g id="k40-1"><use href="#dL" x="84" y="2090"/></g><g id="k40-2"><use href="#dL" x="136" y="2090"/></g><g id="k40-3"><use href="#dL" x="188" y="2090"/></g><g id="k40-4"><use href="#dL" x="240" y="2090"/></g><g id="k40-5"><use href="#dL" x="292" y="2090"/></g><g id="k40-6"><use href="#dL" x="344" y="2090"/></g><g id="k40-7"><use href="#dL" x="396" y="2090"/></g><g id="k40-8"><use href="#dL" x="448" y="2090"/></g><g id="k40-9"><use href="#dL" x="500" y="2090"/></g><g id="k40-10"><use href="#dL" x="552" y="2090"/></g><g id="k40-11"><use href="#dL" x="604" y="2090"/></g><g id="k40-12"><use href="#dL" x="656" y="2090"/></g>
<g id="k41-1"><use href="#dR" x="84" y="2142"/></g><g id="k41-2"><use href="#dR" x="136" y="2142"/></g><g id="k41-3"><use href="#dR" x="188" y="2142"/></g><g id="k41-4"><use href="#dR" x="240" y="2142"/></g><g id="k41-5"><use href="#dR" x="292" y="2142"/></g><g id="k41-6"><use href="#dR" x="344" y="2142"/></g><g id="k41-7"><use href="#dR" x="396" y="2142"/></g><g id="k41-8"><use href="#dR" x="448" y="2142"/></g><g id="k41-9"><use href="#dR" x="500" y="2142"/></g><g id="k41-10"><use href="#dR" x="552" y="2142"/></g><g id="k41-11"><use href="#dR" x="604" y="2142"/></g><g id="k41-12"><use href="#dR" x="656" y="2142"/></g>
</g>
<text id="watermark" x="370" y="1133" text-anchor="middle" font-family="Liberation Sans, Arial, sans-serif" font-weight="bold" font-size="14" fill="#444" stroke="#fff" stroke-width="2" paint-order="stroke">BRACELETBOOK.COM</text>
</svg>
